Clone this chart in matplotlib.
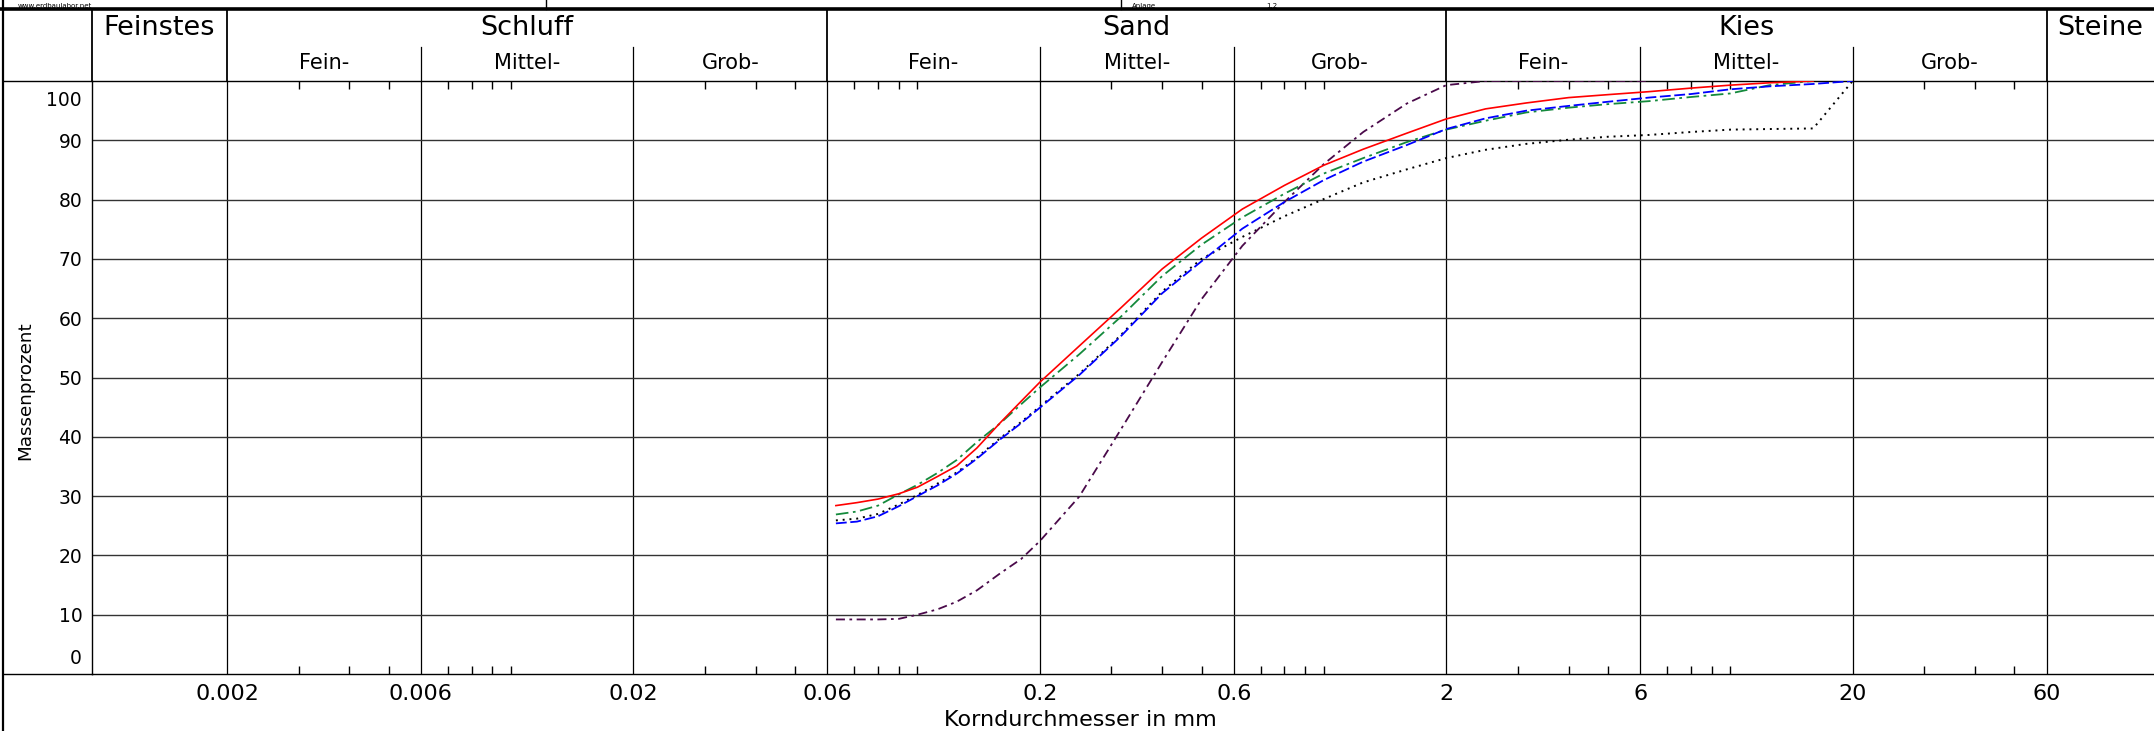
import matplotlib
matplotlib.use("Agg")
import matplotlib.pyplot as plt
from matplotlib.lines import Line2D

W, H = 2154, 731
plt.rcParams.update({"font.family": ["DejaVu Sans"], "axes.linewidth": 1.0})

D = [0.063, 0.071, 0.08, 0.09, 0.1, 0.112, 0.125, 0.14, 0.16, 0.18, 0.2,
     0.25, 0.315, 0.4, 0.5, 0.63, 0.8, 1.0, 1.25, 1.6, 2.0,
     2.5, 3.15, 4, 5, 6.3, 8, 10, 12.5, 16, 20]

# Siebdurchgang in Massenprozent
red = [28.4, 28.9, 29.5, 30.4, 31.5, 33.3, 35.1, 38.1, 42.4, 46.0, 49.2,
       55.3, 61.6, 68.3, 73.5, 78.4, 82.4, 85.8, 88.5, 91.2, 93.6,
       95.3, 96.3, 97.2, 97.7, 98.2, 98.8, 99.3, 99.7, 100]
green = [26.9, 27.4, 28.4, 30.3, 31.9, 33.9, 36.1, 39.1, 42.3, 45.5, 48.3,
         53.9, 60.1, 67.1, 72.4, 77.0, 81.0, 84.4, 87.0, 89.7, 91.8,
         93.3, 94.7, 95.5, 96.1, 96.6, 97.3, 97.9, 99.3, 100]
blue = [25.4, 25.7, 26.6, 28.3, 30.0, 31.8, 33.8, 36.3, 39.6, 42.3, 44.9,
        50.4, 56.8, 64.2, 69.6, 75.1, 79.6, 83.3, 86.4, 89.2, 91.9,
        93.7, 95.0, 95.8, 96.5, 97.2, 97.8, 98.6, 99.1, 99.5, 100]
black = [25.9, 26.2, 27.0, 28.6, 30.2, 32.1, 34.0, 36.5, 39.8, 42.5, 45.1,
         50.6, 57.0, 64.5, 70.0, 73.7, 77.2, 80.1, 82.9, 85.1, 87.0,
         88.4, 89.4, 90.1, 90.6, 90.9, 91.4, 91.8, 91.9, 92.0, 100]
purple = [9.2, 9.2, 9.2, 9.3, 10.0, 10.9, 12.2, 14.1, 17.0, 19.4, 22.4,
          29.9, 41.0, 52.6, 63.2, 72.2, 79.6, 86.0, 91.4, 96.2, 99.3,
          100, 100, 100, 100, 100]

MAJOR = [0.002, 0.006, 0.02, 0.06, 0.2, 0.6, 2, 6, 20, 60]
MAJOR_LABELS = ["0.002", "0.006", "0.02", "0.06", "0.2", "0.6", "2", "6", "20", "60"]
MINOR = [0.003, 0.004, 0.005, 0.007, 0.008, 0.009, 0.01,
         0.03, 0.04, 0.05, 0.07, 0.08, 0.09, 0.1,
         0.3, 0.4, 0.5, 0.7, 0.8, 0.9, 1.0,
         3, 4, 5, 7, 8, 9, 10,
         30, 40, 50]
YTICKS = [10, 20, 30, 40, 50, 60, 70, 80, 90]

GROUPS = ["Feinstes", "Schluff", "Sand", "Kies", "Steine"]
SUBS = ["Fein-", "Mittel-", "Grob-"]
SUB_EDGES = [[0.002, 0.006, 0.02, 0.06], [0.06, 0.2, 0.6, 2], [2, 6, 20, 60]]

XMIN, XMAX = 0.000931, 110.3
ax_l, ax_t, ax_b = 92, 81, 674   # Pixelrahmen des Diagramms


def yax(py):
    """Pixelzeile (von oben) -> Achsenkoordinate."""
    return 1 + (ax_t - py) / (ax_b - ax_t)


def fline(x0, y0, x1, y1, lw=1.0):
    fig.add_artist(Line2D([x0 / W, x1 / W], [1 - y0 / H, 1 - y1 / H],
                          color="black", lw=lw, transform=fig.transFigure))


fig = plt.figure(figsize=(W / 100, H / 100), dpi=100)
ax = fig.add_axes([ax_l / W, 1 - ax_b / H, 1 - ax_l / W, (ax_b - ax_t) / H])

ax.plot(D[:30], red, color="#ff0000", lw=1.2, zorder=5)
ax.plot(D[:30], green, color="#148a3c", lw=1.3, ls=(0, (7, 2.5, 1.5, 2.5)), zorder=4)
ax.plot(D, blue, color="#0000ff", lw=1.3, ls=(0, (6, 2)), zorder=4)
ax.plot(D, black, color="black", lw=1.4, ls=(0, (1, 2.5)), zorder=3)
ax.plot(D[:26], purple, color="#4a0a4a", lw=1.3, ls=(0, (5, 2.5, 1.5, 2.5)), zorder=3)

ax.set_xscale("log")
ax.set_xlim(XMIN, XMAX)
ax.set_ylim(0, 100)
ax.set_xticks(MAJOR)
ax.set_xticklabels(MAJOR_LABELS, fontsize=16)
ax.set_xticks(MINOR, minor=True)
ax.xaxis.set_minor_formatter(plt.NullFormatter())
ax.tick_params(axis="x", which="major", length=0, pad=7.5)
ax.tick_params(axis="x", which="minor", direction="in", top=True, bottom=True,
               length=5.8, width=1.0)
ax.set_yticks(YTICKS)
ax.tick_params(axis="y", length=0, pad=7, labelsize=13.5)
ax.grid(axis="x", which="major", color="black", lw=0.9)
ax.grid(axis="y", color="#333333", lw=1.0)
ax.spines["right"].set_visible(False)

for v, dy in [(100, -19), (0, 16)]:
    ax.annotate(str(v), xy=(0, v), xycoords=ax.get_yaxis_transform(),
                xytext=(-10, dy), textcoords="offset pixels",
                ha="right", va="center", fontsize=13.5)

ax.set_xlabel("Korndurchmesser in mm", fontsize=16)
ax.xaxis.set_label_coords((1080 - ax_l) / (W - ax_l), -(720 - ax_b) / (ax_b - ax_t))
ax.xaxis.label.set_verticalalignment("center")
ax.set_ylabel("Massenprozent", fontsize=13.2)
ax.yaxis.set_label_coords(-(ax_l - 25) / (W - ax_l), (ax_b - 391) / (ax_b - ax_t))
ax.yaxis.label.set_verticalalignment("center")

# Kopfzeile mit Bodenarten
xt = ax.get_xaxis_transform()
bounds = [XMIN, 0.002, 0.06, 2, 60, XMAX]
for v in bounds[:-1]:
    ax.plot([v, v], [1, yax(9)], color="black", lw=1.3, transform=xt, clip_on=False)
for name, a, b in zip(GROUPS, bounds[:-1], bounds[1:]):
    ax.text((a * b) ** 0.5, yax(28), name, transform=xt, ha="center", va="center",
            fontsize=19.5)
for edges in SUB_EDGES:
    for v in edges[1:3]:
        ax.plot([v, v], [1, yax(47)], color="black", lw=0.9, transform=xt, clip_on=False)
    for s, lo, hi in zip(SUBS, edges[:-1], edges[1:]):
        ax.text((lo * hi) ** 0.5, yax(63), s, transform=xt, ha="center", va="center",
                fontsize=15)

# Rahmen links und oben
fline(3, 0, 3, H, lw=1.6)
fline(0, 9, W, 9, lw=2.6)
fline(3, ax_t, ax_l, ax_t)
fline(3, ax_b, ax_l, ax_b)
fline(546, 0, 546, 9)
fline(1121, 0, 1121, 9)

# Fußzeile des Blattes darüber (nur schmaler Streifen sichtbar)
for s, x in [("www.erdbaulabor.net", 18), ("Anlage", 1132), ("1.2", 1266)]:
    fig.text(x / W, 1 - 8.6 / H, s, ha="left", va="bottom", fontsize=5)

fig.savefig("out.png", dpi=100)
